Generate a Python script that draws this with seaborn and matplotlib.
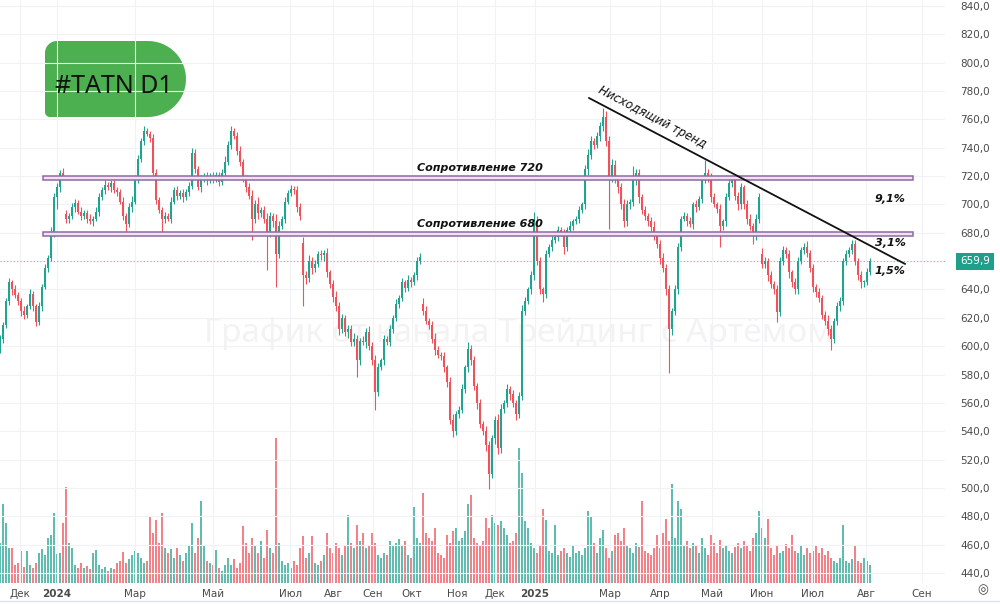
import numpy as np
import pandas as pd
import matplotlib
matplotlib.use("Agg")
import matplotlib.pyplot as plt
import matplotlib.transforms as mtransforms
from matplotlib.patches import Rectangle, Polygon
from matplotlib.lines import Line2D
import seaborn as sns

sns.set_theme(style="white")
plt.rcParams['font.family'] = ['DejaVu Sans']

# ---------------------------------------------------------
# Data (one candle ~ 1.5 trading days)
# ---------------------------------------------------------
close = [
    605, 615, 632, 645, 640, 636, 632, 625, 622, 628, 637, 628, 617, 628, 642, 655, 662, 680, 705, 712,
    722, 720, 690, 692, 698, 701, 695, 692, 694, 690, 688, 690, 695, 705, 710, 714, 712, 715, 710, 709,
    702, 692, 686, 698, 702, 718, 732, 745, 752, 750, 747, 722, 703, 696, 690, 692, 690, 702, 710, 706,
    708, 705, 709, 713, 736, 725, 712, 718, 720, 717, 720, 718, 721, 716, 722, 730, 742, 752, 748, 738,
    730, 718, 712, 706, 690, 700, 694, 696, 690, 680, 692, 688, 665, 685, 690, 702, 708, 711, 710, 698,
    692, 650, 648, 660, 655, 658, 665, 664, 666, 652, 644, 635, 628, 612, 620, 610, 612, 603, 605, 590,
    604, 603, 610, 600, 590, 568, 585, 590, 605, 603, 612, 620, 630, 634, 645, 641, 647, 645, 650, 660,
    663, 625, 618, 615, 605, 597, 594, 593, 585, 575, 548, 540, 552, 555, 570, 585, 598, 590, 572, 560,
    545, 540, 530, 510, 535, 548, 528, 556, 560, 570, 566, 560, 552, 565, 625, 632, 640, 650, 688, 660,
    640, 637, 665, 670, 675, 677, 682, 680, 670, 682, 685, 688, 690, 696, 700, 725, 735, 745, 742, 748,
    755, 762, 745, 720, 728, 718, 712, 700, 688, 700, 702, 718, 722, 705, 696, 692, 688, 684, 678, 672,
    662, 655, 640, 612, 625, 640, 670, 690, 692, 688, 686, 700, 698, 704, 718, 722, 720, 705, 700, 697,
    685, 688, 705, 715, 718, 706, 700, 712, 700, 690, 685, 678, 690, 705, 658, 660, 650, 644, 640, 624,
    660, 668, 665, 652, 645, 640, 660, 668, 670, 666, 655, 642, 638, 634, 622, 618, 612, 605, 618, 628,
    632, 660, 665, 668, 672, 660, 650, 645, 645, 652, 659.9,
]
first_open = 598
gap_opens = {22: 693, 101: 673, 141: 630, 254: 665}

wick_up = [
    3, 2, 2, 3, 2, 3, 2, 2, 3, 2, 3, 2, 2, 3, 2, 3, 2, 4, 3, 3,
    2, 4, 3, 2, 3, 3, 2, 3, 2, 2, 3, 2, 3, 3, 2, 3, 2, 2, 3, 2,
    2, 3, 2, 3, 4, 3, 3, 2, 3, 2, 2, 3, 3, 2, 2, 3, 2, 3, 2, 3,
    2, 3, 2, 3, 4, 3, 2, 3, 2, 3, 2, 3, 2, 2, 3, 4, 3, 3, 2, 3,
    3, 2, 3, 3, 4, 3, 5, 2, 3, 4, 3, 2, 5, 3, 2, 3, 2, 3, 2, 3,
    3, 4, 3, 4, 3, 3, 2, 3, 2, 3, 2, 3, 4, 3, 3, 2, 3, 3, 4, 3,
    2, 3, 3, 4, 3, 4, 3, 2, 3, 2, 3, 2, 3, 2, 3, 2, 3, 2, 2, 3,
    3, 4, 3, 2, 3, 4, 3, 2, 3, 2, 3, 4, 2, 3, 3, 2, 5, 3, 3, 2,
    3, 2, 4, 3, 2, 3, 4, 3, 2, 3, 2, 3, 2, 3, 4, 3, 2, 3, 7, 4,
    3, 2, 3, 2, 3, 2, 3, 2, 3, 2, 3, 2, 2, 3, 2, 3, 4, 3, 2, 3,
    3, 6, 4, 3, 4, 3, 2, 3, 4, 3, 2, 9, 3, 3, 2, 3, 2, 3, 4, 3,
    3, 4, 3, 3, 2, 3, 3, 2, 3, 2, 3, 2, 3, 2, 3, 9, 3, 2, 3, 2,
    3, 2, 3, 4, 3, 2, 3, 3, 2, 3, 3, 2, 3, 3, 4, 3, 2, 3, 2, 3,
    3, 3, 2, 3, 2, 3, 3, 2, 3, 4, 2, 3, 2, 3, 2, 3, 4, 3, 2, 3,
    3, 2, 3, 2, 3, 3, 2, 3, 2, 3, 2,
]
wick_down = [
    3, 3, 2, 3, 4, 2, 3, 4, 3, 2, 2, 3, 3, 2, 3, 2, 3, 2, 3, 8,
    3, 2, 3, 3, 2, 3, 2, 3, 2, 3, 2, 3, 2, 3, 2, 3, 2, 3, 2, 3,
    2, 3, 6, 2, 3, 2, 3, 2, 3, 2, 3, 3, 3, 2, 10, 3, 2, 3, 2, 3,
    2, 3, 2, 3, 2, 3, 2, 3, 2, 3, 2, 3, 2, 3, 2, 3, 2, 3, 2, 3,
    3, 2, 3, 2, 15, 3, 4, 3, 3, 26, 3, 4, 23, 3, 2, 3, 2, 2, 3, 3,
    3, 22, 4, 3, 4, 3, 2, 3, 4, 3, 3, 4, 3, 4, 3, 3, 4, 3, 3, 12,
    3, 2, 4, 3, 3, 13, 3, 2, 3, 2, 3, 3, 2, 3, 2, 3, 2, 3, 2, 3,
    2, 3, 2, 3, 3, 3, 2, 3, 3, 4, 3, 4, 3, 3, 2, 3, 3, 3, 3, 4,
    3, 3, 4, 11, 3, 4, 4, 3, 3, 3, 4, 3, 4, 3, 3, 3, 2, 3, 3, 3,
    3, 6, 3, 2, 3, 2, 3, 2, 5, 3, 2, 3, 2, 3, 2, 3, 4, 3, 3, 2,
    3, 3, 4, 37, 4, 3, 4, 3, 4, 3, 3, 3, 4, 4, 3, 3, 3, 4, 3, 3,
    4, 3, 4, 31, 4, 3, 3, 3, 2, 3, 2, 3, 3, 2, 3, 3, 4, 3, 2, 3,
    15, 3, 3, 2, 3, 3, 4, 3, 3, 4, 3, 6, 3, 3, 3, 3, 4, 3, 3, 7,
    3, 3, 3, 4, 3, 3, 3, 2, 3, 3, 3, 4, 3, 3, 3, 3, 4, 8, 3, 3,
    3, 3, 3, 2, 3, 3, 3, 4, 3, 2, 2,
]
volume = [
    40, 79, 60, 35, 35, 18, 20, 32, 16, 32, 18, 15, 20, 30, 34, 28, 45, 48, 70, 29,
    30, 60, 96, 40, 35, 18, 15, 20, 15, 17, 14, 30, 33, 18, 14, 16, 12, 15, 14, 20,
    22, 31, 20, 24, 28, 32, 30, 25, 20, 22, 66, 50, 63, 40, 70, 35, 30, 34, 25, 35,
    28, 22, 30, 38, 60, 30, 45, 82, 38, 22, 20, 18, 33, 15, 12, 18, 25, 18, 24, 15,
    20, 57, 40, 30, 45, 38, 30, 42, 25, 53, 35, 30, 145, 40, 22, 18, 20, 15, 22, 18,
    35, 47, 25, 30, 47, 20, 18, 22, 28, 50, 35, 30, 40, 35, 28, 38, 68, 40, 35, 58,
    42, 50, 35, 38, 50, 40, 28, 25, 30, 28, 42, 38, 40, 44, 38, 42, 28, 25, 76, 45,
    40, 90, 50, 45, 42, 55, 30, 28, 25, 48, 40, 52, 55, 42, 45, 52, 79, 88, 45, 40,
    38, 42, 65, 55, 68, 60, 58, 62, 55, 48, 40, 42, 50, 135, 110, 62, 55, 40, 35, 30,
    38, 74, 63, 32, 30, 58, 28, 32, 35, 30, 26, 38, 30, 32, 28, 35, 72, 67, 40, 30,
    45, 53, 35, 25, 32, 48, 50, 42, 55, 38, 35, 30, 40, 36, 82, 32, 30, 28, 35, 48,
    35, 50, 64, 42, 99, 45, 82, 74, 38, 42, 35, 40, 38, 30, 45, 35, 28, 48, 40, 30,
    43, 35, 38, 32, 30, 36, 40, 35, 42, 38, 32, 45, 50, 72, 55, 45, 64, 35, 28, 38,
    30, 32, 39, 35, 48, 32, 30, 38, 28, 35, 30, 32, 38, 30, 35, 28, 32, 25, 22, 20,
    25, 58, 22, 20, 24, 38, 22, 20, 25, 22, 18,
]

month_labels = ["Дек", "2024", "Мар", "Май", "Июл", "Авг", "Сен", "Окт", "Ноя",
                "Дек", "2025", "Мар", "Апр", "Май", "Июн", "Июл", "Авг", "Сен"]
month_idx = [6.7, 19, 45, 71, 96.7, 111, 124.3, 137.3, 152.3,
             165, 178.3, 203.3, 220, 237.3, 254, 270.7, 288.7, 307.3]

resistance_levels = [720, 680]
band_low = [717, 677.5]
band_high = [720, 680.5]
band_start_idx, band_end_idx = 14.3, 304.3
trend_idx = [196.3, 301.7]
trend_price = [775.1, 658.0]
pct_labels = ["9,1%", "3,1%", "1,5%"]
pct_price = [703.8, 672.8, 653.0]
last_price = 659.9

UP = "#22a38f"
DOWN = "#ef525b"

# ---------------------------------------------------------
# Build candle table
# ---------------------------------------------------------
n = len(close)
opens = [first_open] + close[:-1]
for k, v in gap_opens.items():
    opens[k] = v
df = pd.DataFrame({"idx": np.arange(n), "open": opens, "close": close,
                   "volume": volume})
df["high"] = df[["open", "close"]].max(axis=1) + np.array(wick_up)
df["low"] = df[["open", "close"]].min(axis=1) - np.array(wick_down)
df["dir"] = np.where(df["close"] >= df["open"], "up", "down")
df["color"] = np.where(df["dir"] == "up", UP, DOWN)

# ---------------------------------------------------------
# Figure
# ---------------------------------------------------------
fig = plt.figure(figsize=(10, 6.04), dpi=100)
ax = fig.add_axes([0, 21 / 604, 945 / 1000, 583 / 604])
ax_vol = ax.twinx()

# volume in the background
sns.barplot(data=df, x="idx", y="volume", hue="dir",
            palette={"up": UP, "down": DOWN}, native_scale=True, dodge=False,
            width=0.7, alpha=0.72, saturation=1, errorbar=None, legend=False,
            linewidth=0, ax=ax_vol)
ax_vol.set_ylim(0, 583)
ax_vol.set_yticks([])
ax_vol.set_xlabel("")
ax_vol.set_ylabel("")
for s in ax_vol.spines.values():
    s.set_visible(False)

ax.set_zorder(ax_vol.get_zorder() + 1)
ax.patch.set_visible(False)

# watermark
ax.text(173, 609, "График от канала Трейдинг с Артёмом", fontsize=24,
        family="Noto Sans", color="#f3f3f3", ha="center", va="center", zorder=0)

# candles
body_h = (df["close"] - df["open"]).abs().clip(lower=0.7)
body_b = df[["open", "close"]].min(axis=1)
ax.vlines(df["idx"], df["low"], df["high"], colors=df["color"], lw=0.8, zorder=3)
ax.bar(df["idx"], body_h, bottom=body_b, width=0.65, color=df["color"],
       linewidth=0, zorder=4)

# resistance bands
for lo, hi in zip(band_low, band_high):
    ax.add_patch(Rectangle((band_start_idx, lo), band_end_idx - band_start_idx, hi - lo,
                           facecolor="#f3e1f1", edgecolor="#8c6aa3", lw=1.1, zorder=5))

txt_kw = dict(fontsize=8, fontweight="bold", fontstyle="italic", color="#111111", zorder=6)
ax.text(160, 722, "Сопротивление 720", ha="center", va="bottom", **txt_kw)
ax.text(160, 683, "Сопротивление 680", ha="center", va="bottom", **txt_kw)
for lab, p in zip(pct_labels, pct_price):
    ax.text(296.7, p, lab, ha="center", va="center", **txt_kw)

# descending trend line
ax.plot(trend_idx, trend_price, color="#111111", lw=1.3, zorder=6)
ax.text(198.7, 777.2, "Нисходящий тренд", rotation=-27.7, rotation_mode="anchor",
        ha="left", va="bottom", fontsize=8.5, fontstyle="italic", color="#111111", zorder=6)

# last price
ax.axhline(last_price, color="#7fbfb3", lw=0.8, ls=(0, (1, 2)), zorder=2)
blend = mtransforms.blended_transform_factory(ax.transAxes, ax.transData)
ax.text(1.016, last_price, f"{last_price:.1f}".replace(".", ","), transform=blend,
        ha="left", va="center", fontsize=7.5, color="white", clip_on=False,
        bbox=dict(boxstyle="square,pad=0.35", fc="#1f9e89", ec="none"))

# axes, ticks, grid
ax.set_xlim(0, 315)
ax.set_ylim(432.95, 844.2)
price_ticks = list(range(440, 841, 20))
ax.yaxis.tick_right()
ax.set_yticks(price_ticks)
ax.set_yticklabels([f"{p:.1f}".replace(".", ",") for p in price_ticks])
ax.set_xticks(month_idx)
ax.set_xticklabels(month_labels)
for t in ax.get_xticklabels():
    if t.get_text() in ("2024", "2025"):
        t.set_fontweight("bold")
        t.set_color("#131722")
ax.tick_params(axis="y", length=0, pad=11, labelsize=7.5, labelcolor="#4a4a4a")
ax.tick_params(axis="x", length=0, pad=4, labelsize=7.5, labelcolor="#4a4a4a")
ax.grid(True, color="#f1f2f5", lw=0.8, zorder=0)
for s in ax.spines.values():
    s.set_visible(False)

# badge
def arc(cx, cy, r, a0, a1, k=30):
    t = np.radians(np.linspace(a0, a1, k))
    return np.column_stack([cx + r * np.cos(t), cy + r * np.sin(t)])

pts = np.vstack([arc(57, 53, 12, 180, 270), arc(148, 79, 38, 270, 450),
                 arc(50, 112, 5, 90, 180)])
pts_fig = np.column_stack([pts[:, 0] / 1000, 1 - pts[:, 1] / 604])
fig.add_artist(Polygon(pts_fig, closed=True, transform=fig.transFigure,
                       facecolor="#4caf50", edgecolor="none"))
fig.text(114 / 1000, 1 - 93 / 604, "#TATN D1", ha="center", va="baseline",
         fontsize=18, family="Noto Sans", color="#111111")

# bottom separator and settings icon
fig.add_artist(Line2D([0, 1], [1 - 601 / 604] * 2, transform=fig.transFigure,
                      color="#e0e3eb", lw=1))
fig.text(983 / 1000, 1 - 590 / 604, "◎", ha="center", va="center", fontsize=9,
         color="#444444")

fig.savefig("out.png", dpi=100)
